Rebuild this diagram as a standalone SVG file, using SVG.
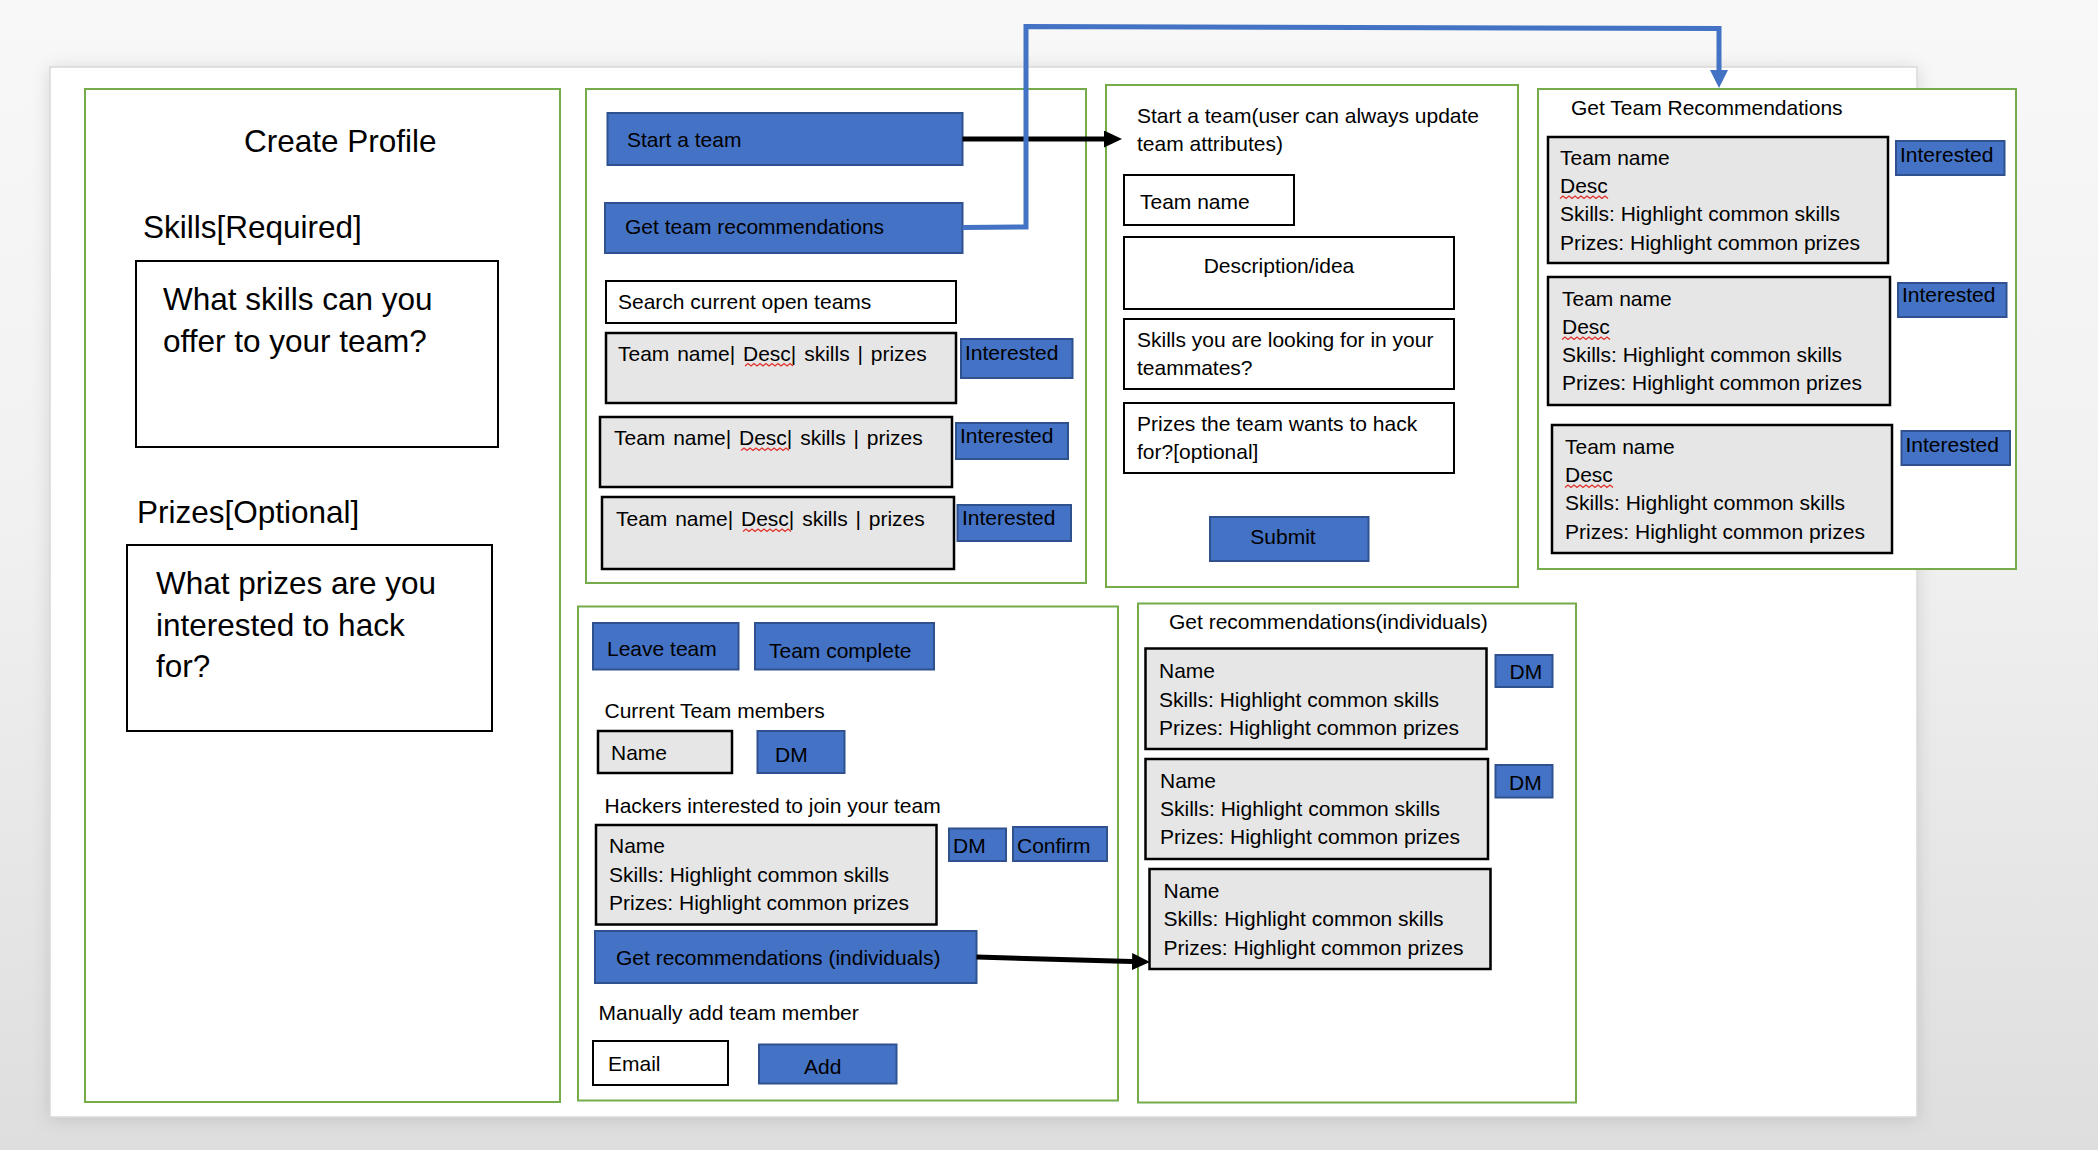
<svg xmlns="http://www.w3.org/2000/svg" width="2098" height="1150" viewBox="0 0 2098 1150">
  <style>
    text { font-family: "Liberation Sans", Arial, sans-serif; fill: #000; }
    .s { font-size: 21px; }
    .l { font-size: 31.5px; }
    .row { word-spacing: 2px; }
    .panel { fill: #fff; stroke: #76AB4C; stroke-width: 2; }
    .btn { fill: #4472C4; stroke: #2F528F; stroke-width: 2; }
    .card { fill: #E7E6E6; stroke: #000; stroke-width: 2.5; }
    .field { fill: #fff; stroke: #000; stroke-width: 2; }
    .squiggle { fill: none; stroke: #E0302A; stroke-width: 1.3; }
    .link-black { fill: none; stroke: #000; stroke-width: 5; }
    .link-blue { fill: none; stroke: #4472C4; stroke-width: 5; stroke-linejoin: miter; }
  </style>
  <defs>
    <linearGradient id="backdrop" x1="0" y1="0" x2="0" y2="1">
      <stop offset="0" stop-color="#f8f8f8"/>
      <stop offset="0.45" stop-color="#f1f1f1"/>
      <stop offset="1" stop-color="#dedede"/>
    </linearGradient>
    <filter id="pageShadow" x="-5%" y="-5%" width="110%" height="110%">
      <feDropShadow dx="0" dy="2" stdDeviation="9" flood-color="#000" flood-opacity="0.13"/>
    </filter>
    <marker id="headBlack" markerUnits="userSpaceOnUse" markerWidth="18" markerHeight="17" refX="0" refY="8.5" orient="auto">
      <path d="M0,0 L18,8.5 L0,17 Z" fill="#000"/>
    </marker>
    <marker id="headBlue" markerUnits="userSpaceOnUse" markerWidth="18" markerHeight="18" refX="0" refY="9" orient="auto">
      <path d="M0,0 L18,9 L0,18 Z" fill="#4472C4"/>
    </marker>
    <!-- spell-check underline, 48px long -->
    <path id="wave" class="squiggle" d="M0,0 l3,-2.5 l3,2.5 l3,-2.5 l3,2.5 l3,-2.5 l3,2.5 l3,-2.5 l3,2.5 l3,-2.5 l3,2.5 l3,-2.5 l3,2.5 l3,-2.5 l3,2.5 l3,-2.5 l3,2.5"/>
  </defs>

  <!-- window backdrop and document page -->
  <rect x="0" y="0" width="2098" height="1150" fill="url(#backdrop)"/>
  <rect x="50" y="67" width="1867" height="1050" fill="#fff" stroke="#d8d8d8" stroke-width="1.5" filter="url(#pageShadow)"/>

  <!-- Create Profile -->
  <g id="create-profile">
    <rect class="panel" x="85" y="89" width="475" height="1013"/>
    <text class="l" x="244" y="152">Create Profile</text>
    <text class="l" x="143" y="238">Skills[Required]</text>
    <rect class="field" x="136" y="261" width="362" height="186"/>
    <text class="l" x="163" y="310">What skills can you</text>
    <text class="l" x="163" y="352">offer to your team?</text>
    <text class="l" x="137" y="523">Prizes[Optional]</text>
    <rect class="field" x="127" y="545" width="365" height="186"/>
    <text class="l" x="156" y="594">What prizes are you</text>
    <text class="l" x="156" y="636">interested to hack</text>
    <text class="l" x="156" y="677">for?</text>
  </g>

  <!-- Team actions / open teams -->
  <g id="team-actions">
    <rect class="panel" x="586" y="89" width="500" height="494"/>
    <rect class="btn" x="607.5" y="113" width="355" height="52"/>
    <text class="s" x="627" y="147">Start a team</text>
    <rect class="btn" x="605" y="203" width="357.5" height="50"/>
    <text class="s" x="625" y="234">Get team recommendations</text>
    <rect class="field" x="606" y="281" width="350" height="42"/>
    <text class="s" x="618" y="309">Search current open teams</text>

    <rect class="card" x="606" y="333" width="350" height="70"/>
    <text class="s row" x="618" y="360.5">Team name| Desc| skills | prizes</text>
    <use href="#wave" x="745" y="366"/>
    <rect class="btn" x="961" y="339" width="111.5" height="39"/>
    <text class="s" x="965" y="360">Interested</text>

    <rect class="card" x="600" y="417" width="352" height="70"/>
    <text class="s row" x="614" y="445">Team name| Desc| skills | prizes</text>
    <use href="#wave" x="741" y="450.5"/>
    <rect class="btn" x="956" y="423" width="112" height="36"/>
    <text class="s" x="960" y="443">Interested</text>

    <rect class="card" x="602" y="497" width="352" height="72"/>
    <text class="s row" x="616" y="526">Team name| Desc| skills | prizes</text>
    <use href="#wave" x="743" y="531.5"/>
    <rect class="btn" x="957.5" y="505" width="113.5" height="36"/>
    <text class="s" x="962" y="525">Interested</text>
  </g>

  <!-- Start a team form -->
  <g id="start-team-form">
    <rect class="panel" x="1106" y="85" width="412" height="502"/>
    <text class="s" x="1137" y="122.5">Start a team(user can always update</text>
    <text class="s" x="1137" y="151">team attributes)</text>
    <rect class="field" x="1124" y="175" width="170" height="50"/>
    <text class="s" x="1140" y="209">Team name</text>
    <rect class="field" x="1124" y="237" width="330" height="72"/>
    <text class="s" x="1279" y="273" text-anchor="middle">Description/idea</text>
    <rect class="field" x="1124" y="319" width="330" height="70"/>
    <text class="s" x="1137" y="347">Skills you are looking for in your</text>
    <text class="s" x="1137" y="375">teammates?</text>
    <rect class="field" x="1124" y="403" width="330" height="70"/>
    <text class="s" x="1137" y="430.5">Prizes the team wants to hack</text>
    <text class="s" x="1137" y="458.5">for?[optional]</text>
    <rect class="btn" x="1210" y="517" width="158.5" height="44"/>
    <text class="s" x="1283" y="544" text-anchor="middle">Submit</text>
  </g>

  <!-- Team recommendations -->
  <g id="team-recommendations">
    <rect class="panel" x="1538" y="89" width="478" height="480"/>
    <text class="s" x="1571" y="115">Get Team Recommendations</text>

    <rect class="card" x="1548" y="137" width="340" height="126"/>
    <text class="s" x="1560" y="165">Team name</text>
    <text class="s" x="1560" y="193">Desc</text>
    <use href="#wave" x="1560" y="198.5"/>
    <text class="s" x="1560" y="221">Skills: Highlight common skills</text>
    <text class="s" x="1560" y="249.5">Prizes: Highlight common prizes</text>
    <rect class="btn" x="1896" y="141" width="108.5" height="34"/>
    <text class="s" x="1900" y="161.5">Interested</text>

    <rect class="card" x="1548" y="277" width="342" height="128"/>
    <text class="s" x="1562" y="306">Team name</text>
    <text class="s" x="1562" y="334">Desc</text>
    <use href="#wave" x="1562" y="339.5"/>
    <text class="s" x="1562" y="362">Skills: Highlight common skills</text>
    <text class="s" x="1562" y="390">Prizes: Highlight common prizes</text>
    <rect class="btn" x="1898" y="283" width="108.5" height="34"/>
    <text class="s" x="1902" y="302">Interested</text>

    <rect class="card" x="1552" y="425" width="340" height="128"/>
    <text class="s" x="1565" y="454">Team name</text>
    <text class="s" x="1565" y="482">Desc</text>
    <use href="#wave" x="1565" y="487.5"/>
    <text class="s" x="1565" y="510">Skills: Highlight common skills</text>
    <text class="s" x="1565" y="538.5">Prizes: Highlight common prizes</text>
    <rect class="btn" x="1901.5" y="431" width="108.5" height="34"/>
    <text class="s" x="1905.5" y="451.5">Interested</text>
  </g>

  <!-- Team management -->
  <g id="team-management">
    <rect class="panel" x="578" y="606.5" width="540" height="494"/>
    <rect class="btn" x="593" y="623" width="145.5" height="46.5"/>
    <text class="s" x="607" y="656">Leave team</text>
    <rect class="btn" x="755" y="623" width="179" height="46.5"/>
    <text class="s" x="769" y="658">Team complete</text>

    <text class="s" x="604.5" y="718">Current Team members</text>
    <rect class="card" x="598" y="731" width="134" height="42"/>
    <text class="s" x="611" y="760">Name</text>
    <rect class="btn" x="757.5" y="731" width="87" height="42"/>
    <text class="s" x="775" y="762">DM</text>

    <text class="s" x="604.5" y="813">Hackers interested to join your team</text>
    <rect class="card" x="596" y="825" width="340.5" height="99.5"/>
    <text class="s" x="609" y="853">Name</text>
    <text class="s" x="609" y="881.5">Skills: Highlight common skills</text>
    <text class="s" x="609" y="910">Prizes: Highlight common prizes</text>
    <rect class="btn" x="949" y="828.5" width="57" height="32.5"/>
    <text class="s" x="953" y="852.5">DM</text>
    <rect class="btn" x="1013" y="827" width="94" height="34"/>
    <text class="s" x="1017" y="853">Confirm</text>

    <rect class="btn" x="595" y="931" width="381.5" height="52"/>
    <text class="s" x="616" y="964.5">Get recommendations (individuals)</text>

    <text class="s" x="598.5" y="1020">Manually add team member</text>
    <rect class="field" x="593" y="1041" width="135" height="44"/>
    <text class="s" x="608" y="1070.5">Email</text>
    <rect class="btn" x="759" y="1044.5" width="137.5" height="39"/>
    <text class="s" x="804" y="1073.5">Add</text>
  </g>

  <!-- Individual recommendations -->
  <g id="individual-recommendations">
    <rect class="panel" x="1138" y="603.5" width="438" height="499"/>
    <text class="s" x="1169" y="629">Get recommendations(individuals)</text>

    <rect class="card" x="1145.5" y="648.5" width="341" height="100.5"/>
    <text class="s" x="1159" y="678">Name</text>
    <text class="s" x="1159" y="706.5">Skills: Highlight common skills</text>
    <text class="s" x="1159" y="734.5">Prizes: Highlight common prizes</text>
    <rect class="btn" x="1495.5" y="655" width="57" height="32"/>
    <text class="s" x="1509.5" y="679">DM</text>

    <rect class="card" x="1145.5" y="759" width="342.5" height="100"/>
    <text class="s" x="1160" y="788">Name</text>
    <text class="s" x="1160" y="816">Skills: Highlight common skills</text>
    <text class="s" x="1160" y="844">Prizes: Highlight common prizes</text>
    <rect class="btn" x="1495.5" y="765" width="57" height="32.5"/>
    <text class="s" x="1509" y="790">DM</text>

    <rect class="card" x="1149.5" y="869" width="341" height="100"/>
    <text class="s" x="1163.5" y="898">Name</text>
    <text class="s" x="1163.5" y="926">Skills: Highlight common skills</text>
    <text class="s" x="1163.5" y="954.5">Prizes: Highlight common prizes</text>
  </g>

  <!-- Connectors -->
  <g id="connectors">
    <path class="link-black" d="M962.5,139 L1104,139" marker-end="url(#headBlack)"/>
    <path class="link-blue" d="M962.5,227.5 L1026,227 L1026,26.5 L1719,28.5 L1719,70" marker-end="url(#headBlue)"/>
    <path class="link-black" d="M976.5,957 L1132,961.5" marker-end="url(#headBlack)"/>
  </g>
</svg>
